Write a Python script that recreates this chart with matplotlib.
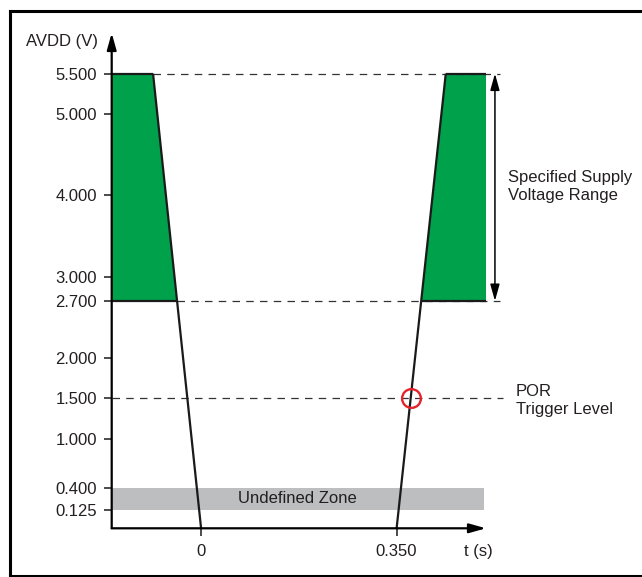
import numpy as np
import matplotlib
matplotlib.use("Agg")
import matplotlib.pyplot as plt
from matplotlib.lines import Line2D

plt.rcParams['font.family'] = ['Liberation Sans', 'DejaVu Sans']

# ---- data ----
y_ticks = [0.125, 0.4, 1.0, 1.5, 2.0, 2.7, 3.0, 4.0, 5.0, 5.5]
y_tick_labels = ["0.125", "0.400", "1.000", "1.500", "2.000", "2.700", "3.000", "4.000", "5.000", "5.500"]
x_ticks = [0.0, 0.35]
x_tick_labels = ["0", "0.350"]

v_min_spec = 2.7
v_max_spec = 5.5
v_por = 1.5
undef_low, undef_high = 0.125, 0.4

fall_t = [-0.086, 0.0]     # power-down ramp (t at 5.5 V, t at axis)
fall_v = [5.5, -0.1]
rise_t = [0.35, 0.438]     # power-up ramp
rise_v = [-0.1, 5.5]

t_left, t_right = -0.16, 0.51
v_bottom, v_top = -0.1, 6.0

green = '#00a14b'
grey = '#bcbec0'
txt = '#231f20'
red = '#e4232b'
FS = 12

fig = plt.figure(figsize=(6.42, 5.77), dpi=100)
W, H = 642, 577
ax = fig.add_axes([111.7 / W, (H - 528.3) / H, (486 - 111.7) / W, (528.3 - 33) / H])
ax.set_xlim(t_left, t_right)
ax.set_ylim(v_bottom, v_top)
for s in ax.spines.values():
    s.set_visible(False)
ax.patch.set_visible(False)

def t_at(ts, vs, v):
    ts = np.asarray(ts); vs = np.asarray(vs)
    order = np.argsort(vs)
    return float(np.interp(v, vs[order], ts[order]))

tf27 = t_at(fall_t, fall_v, v_min_spec)
tr27 = t_at(rise_t, rise_v, v_min_spec)
tr_por = t_at(rise_t, rise_v, v_por)

# green regions
ax.fill([t_left, fall_t[0], tf27, t_left], [v_max_spec, v_max_spec, v_min_spec, v_min_spec],
        color=green, lw=0, zorder=1)
ax.fill([tr27, rise_t[1], t_right, t_right], [v_min_spec, v_max_spec, v_max_spec, v_min_spec],
        color=green, lw=0, zorder=1)

# undefined zone
ax.fill_between([t_left, 0.506], undef_low, undef_high, color=grey, lw=0, zorder=1)
ax.text((t_left + 0.506) / 2, (undef_low + undef_high) / 2, "Undefined Zone",
        ha='center', va='center', fontsize=FS, color=txt, zorder=3)

# dashed reference lines
dash = dict(color='#333333', lw=0.9, ls=(0, (6, 5)), zorder=2, clip_on=False)
ax.plot([fall_t[0], 0.535], [v_max_spec] * 2, **dash)
ax.plot([tf27, 0.535], [v_min_spec] * 2, **dash)
ax.plot([t_left, 0.540], [v_por] * 2, **dash)

# solid black edges
solid = dict(color='#1a1a1a', lw=1.6, zorder=4, clip_on=False, solid_capstyle='butt')
ax.plot([t_left, fall_t[0]], [v_max_spec] * 2, **solid)
ax.plot([t_left, tf27], [v_min_spec] * 2, **solid)
ax.plot([rise_t[1], t_right], [v_max_spec] * 2, **solid)
ax.plot([tr27, t_right], [v_min_spec] * 2, **solid)
ax.plot(fall_t, fall_v, **solid)
ax.plot(rise_t, rise_v, **solid)

# POR circle
ax.plot([tr_por], [v_por], marker='o', ms=13.5, mfc='none', mec=red, mew=1.7, zorder=5, clip_on=False)

# axes arrows
ax.annotate('', xy=(t_left, v_top), xytext=(t_left, v_bottom),
            arrowprops=dict(arrowstyle='-|>,head_length=1.0,head_width=0.28', color='black', lw=1.6,
                            shrinkA=0, shrinkB=0), annotation_clip=False, zorder=6)
ax.annotate('', xy=(t_right, v_bottom), xytext=(t_left, v_bottom),
            arrowprops=dict(arrowstyle='-|>,head_length=1.0,head_width=0.28', color='black', lw=1.6,
                            shrinkA=0, shrinkB=0), annotation_clip=False, zorder=6)

# double arrow for specified range
ax.annotate('', xy=(0.526, v_min_spec), xytext=(0.526, v_max_spec),
            arrowprops=dict(arrowstyle='<|-|>,head_length=1.0,head_width=0.28', color='black', lw=1.1,
                            shrinkA=0, shrinkB=0), annotation_clip=False)

# ticks
ax.set_yticks(y_ticks)
ax.set_yticklabels(y_tick_labels)
ax.set_xticks(x_ticks)
ax.set_xticklabels(x_tick_labels)
ax.tick_params(axis='y', direction='out', length=5.6, width=1.1, pad=5.0, labelsize=FS,
               labelcolor=txt, color='#1a1a1a')
ax.tick_params(axis='x', direction='out', length=5.6, width=1.1, pad=6.0, labelsize=FS,
               labelcolor=txt, color='#1a1a1a')

# labels
ax.text(-0.313, 5.90, "AVDD (V)", ha='left', va='center', fontsize=FS, color=txt)
ax.text(0.4955, -0.38, "t (s)", ha='center', va='center', fontsize=FS, color=txt)
ax.text(0.549, 4.105, "Specified Supply\nVoltage Range", ha='left', va='center',
        fontsize=FS, color=txt, linespacing=1.25)
ax.text(0.563, 1.48, "POR\nTrigger Level", ha='left', va='center',
        fontsize=FS, color=txt, linespacing=1.25)

# frame around the figure (left, top, bottom)
fr = dict(color='black', lw=2.2, transform=fig.transFigure, solid_capstyle='projecting')
fig.add_artist(Line2D([9.5 / W, 9.5 / W], [1 - 10.5 / H, 0.5 / H], **fr))
fig.add_artist(Line2D([9.5 / W, 1.0], [1 - 10.5 / H, 1 - 10.5 / H], **fr))
fig.add_artist(Line2D([9.5 / W, 1.0], [0.8 / H, 0.8 / H], **fr))

fig.savefig("out.png", dpi=100)
